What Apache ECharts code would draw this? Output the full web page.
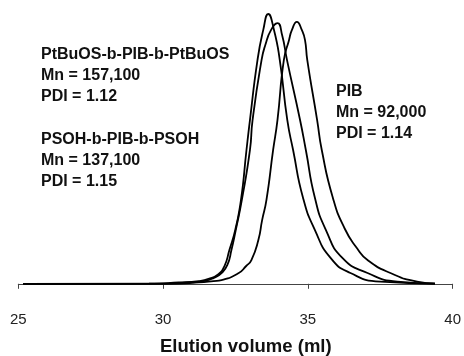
<!DOCTYPE html>
<html>
<head>
<meta charset="utf-8">
<script src="https://cdn.jsdelivr.net/npm/echarts@6/dist/echarts.min.js"></script>
<style>
  html, body { margin: 0; padding: 0; background: #fff; }
  #main { width: 464px; height: 356px; }
</style>
</head>
<body>
<div id="main"></div>
<script>
  // elution volume (ml) vs normalised detector response
  var tBuOS = [
    [25.17, 0], [29.51, 0.001], [30.54, 0.005], [31.23, 0.010], [31.57, 0.018],
    [31.91, 0.036], [32.12, 0.066], [32.29, 0.125], [32.49, 0.199], [32.69, 0.311],
    [32.88, 0.496], [33.00, 0.607], [33.26, 0.829], [33.46, 0.941], [33.63, 1.0],
    [33.83, 0.941], [34.03, 0.829], [34.29, 0.607], [34.49, 0.496], [34.83, 0.320],
    [35.24, 0.200], [35.79, 0.095], [36.47, 0.040], [37.50, 0.008], [39.39, 0.001]
  ];
  var soh = [
    [25.17, 0], [29.86, 0.001], [30.89, 0.005], [31.40, 0.010], [31.74, 0.021],
    [32.02, 0.040], [32.22, 0.070], [32.36, 0.125], [32.51, 0.199], [32.72, 0.311],
    [33.00, 0.496], [33.09, 0.607], [33.40, 0.829], [33.53, 0.885], [33.73, 0.941],
    [33.95, 0.966], [34.11, 0.922], [34.28, 0.829], [34.73, 0.607], [34.93, 0.496],
    [35.24, 0.320], [35.62, 0.200], [36.20, 0.095], [37.06, 0.040], [38.09, 0.008],
    [39.39, 0.001]
  ];
  var pib = [
    [25.17, 0], [30.20, 0.001], [31.23, 0.005], [31.74, 0.010], [32.02, 0.014],
    [32.60, 0.039], [32.87, 0.066], [33.05, 0.088], [33.29, 0.162], [33.42, 0.236],
    [33.57, 0.311], [33.80, 0.496], [33.95, 0.607], [34.17, 0.829], [34.35, 0.904],
    [34.45, 0.941], [34.62, 0.971], [34.79, 0.941], [34.90, 0.904], [34.98, 0.829],
    [35.32, 0.607], [35.48, 0.496], [35.86, 0.320], [36.27, 0.205], [36.71, 0.130],
    [37.06, 0.088], [37.85, 0.040], [38.77, 0.008], [39.39, 0.001]
  ];
  var xTicks = [25, 30, 35, 40];
  var labels = [
    { x: 41, y: 56, lines: ['PtBuOS-b-PIB-b-PtBuOS', 'Mn = 157,100', 'PDI = 1.12'] },
    { x: 41, y: 141, lines: ['PSOH-b-PIB-b-PSOH', 'Mn = 137,100', 'PDI = 1.15'] },
    { x: 336, y: 93, lines: ['PIB', 'Mn = 92,000', 'PDI = 1.14'] }
  ];

  var chart = echarts.init(document.getElementById('main'));

  function curve(d) {
    return {
      type: 'line',
      data: d,
      smooth: 0.55,
      showSymbol: false,
      lineStyle: { color: '#000', width: 1.8 },
      silent: true
    };
  }

  var texts = [];
  labels.forEach(function (b) {
    b.lines.forEach(function (s, i) {
      texts.push({
        type: 'text',
        left: b.x,
        top: b.y + i * 21 - 9,
        style: { text: s, fill: '#111', font: 'bold 16px "Liberation Sans", Arial, sans-serif' }
      });
    });
  });
  texts.push({
    type: 'text',
    left: 160,
    top: 337,
    style: { text: 'Elution volume (ml)', fill: '#111', font: 'bold 18.5px "Liberation Sans", Arial, sans-serif' }
  });

  chart.setOption({
    animation: false,
    grid: { left: 18.3, right: 8.2, top: 14, bottom: 56 },
    xAxis: {
      type: 'value',
      min: xTicks[0],
      max: xTicks[xTicks.length - 1],
      interval: 5,
      axisLine: { lineStyle: { color: '#444', width: 1 } },
      axisTick: { show: true, length: 5, lineStyle: { color: '#444' } },
      axisLabel: {
        margin: 12,
        color: '#222',
        fontSize: 15,
        fontFamily: '"Liberation Sans", Arial, sans-serif'
      },
      splitLine: { show: false }
    },
    yAxis: {
      type: 'value',
      min: -0.06,
      max: 1.0,
      show: false
    },
    graphic: texts,
    series: [curve(tBuOS), curve(soh), curve(pib)]
  });
</script>
</body>
</html>
